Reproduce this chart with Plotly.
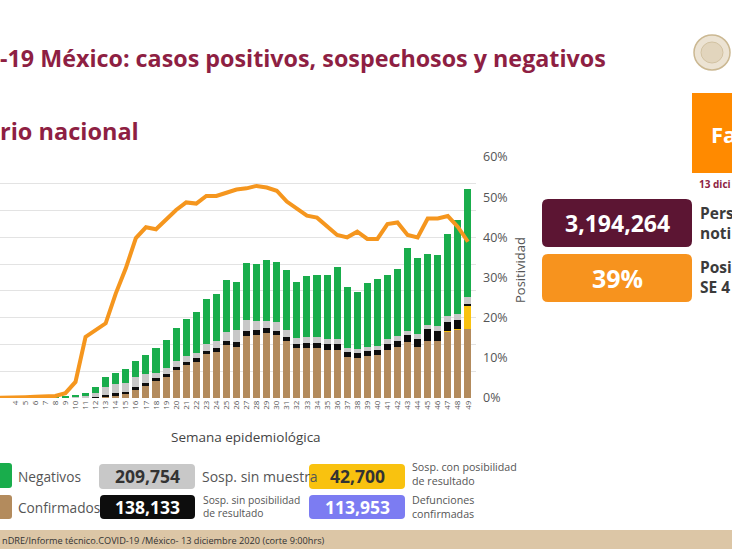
import plotly.graph_objects as go

W, H = 732, 549

weeks = list(range(1, 50))
week_labels = [str(w) for w in weeks]

confirmados = [0, 0, 0, 0, 0, 0, 0, 0, 0, 200, 400, 400, 1000, 2200, 3500, 6700, 9200, 12700, 15900, 20900,
               24600, 27100, 32800, 34600, 39300, 38300, 46300, 47000, 48300, 47000, 42300, 37100, 37500, 37500,
               35800, 35800, 30400, 29600, 31300, 32100, 35800, 38300, 41600, 37800, 42500, 42500, 50000, 51300, 51500]
sosp_con_posibilidad = [0] * 46 + [200, 400, 17900]
sosp_sin_posibilidad = [0, 0, 0, 0, 0, 0, 0, 0, 0, 100, 200, 600, 1300, 1300, 1200, 1300, 1800, 2000, 2000, 2000,
                        2500, 2500, 2500, 2500, 3000, 3500, 4000, 3700, 3700, 3200, 3400, 3200, 3300, 3700,
                        4300, 4300, 4000, 3700, 3700, 3700, 4500, 4300, 5400, 6000, 8700, 7500, 6900, 6900, 700]
sosp_sin_muestra = [0, 0, 0, 0, 0, 0, 0, 0, 200, 600, 900, 2500, 5700, 6900, 6700, 7500, 6900, 4200, 4300, 4900,
                    4500, 4200, 5000, 5700, 7200, 9000, 8000, 6700, 5700, 6300, 5000, 4300, 4500, 4000,
                    3700, 4000, 2800, 3000, 3200, 3000, 3500, 3700, 3200, 4000, 3200, 3700, 4300, 4500, 5000]
negativos = [750, 750, 900, 900, 750, 750, 750, 750, 600, 1300, 2500, 4900, 7900, 8400, 10000, 12200, 14200,
             18400, 21100, 24600, 27400, 30200, 33400, 34900, 38400, 36000, 42800, 42500, 45300, 44800, 44800,
             42200, 45700, 46700, 48200, 53500, 46000, 43000, 47800, 49800, 48000, 49800, 61900, 56900, 52800,
             52800, 61000, 70200, 81300]
positividad = [0.0, 0.0, 0.2, 0.2, 0.2, 0.3, 0.3, 0.5, 1.2, 4.0, 15.2, 16.8, 18.6, 26.0, 32.3, 39.8, 42.5, 42.0,
               44.3, 46.8, 48.7, 48.4, 50.3, 50.3, 51.1, 51.9, 52.2, 52.8, 52.4, 51.6, 48.9, 47.0, 45.4, 44.9,
               42.6, 40.6, 40.0, 41.4, 39.6, 39.6, 43.3, 43.7, 40.6, 40.0, 44.7, 44.7, 45.3, 42.6, 38.9]

total_notificados = "3,194,264"
positividad_se = "39%"
legend_values = {"sin_muestra": "209,754", "sin_posibilidad": "138,133",
                 "con_posibilidad": "42,700", "defunciones": "113,953"}

C_GREEN = "#19ad4c"
C_BROWN = "#b38b5d"
C_GRAY = "#c8c8c8"
C_BLACK = "#0d0d0d"
C_YELLOW = "#f9c20f"
C_ORANGE = "#f5961e"
C_MAROON = "#8e1f43"
C_DARKMAROON = "#5c1533"
C_PURPLE = "#7c7cf2"
FONT = "Open Sans"


def px(x):
    return x / W


def py(y):
    return 1 - y / H


fig = go.Figure()
series = [
    ("Confirmados", confirmados, C_BROWN),
    ("Sosp. con posibilidad de resultado", sosp_con_posibilidad, C_YELLOW),
    ("Sosp. sin posibilidad de resultado", sosp_sin_posibilidad, C_BLACK),
    ("Sosp. sin muestra", sosp_sin_muestra, C_GRAY),
    ("Negativos", negativos, C_GREEN),
]
for name, vals, col in series:
    fig.add_trace(go.Bar(x=weeks, y=vals, name=name, marker=dict(color=col, line=dict(width=0)),
                         showlegend=False))

fig.add_trace(go.Scatter(x=weeks, y=[v / 100 for v in positividad], yaxis="y2", mode="lines",
                         line=dict(color=C_ORANGE, width=4), showlegend=False))

shapes = []
annotations = []


def rrect(x0, y0, x1, y1, r, color):
    X0, X1 = px(x0), px(x1)
    Y0, Y1 = py(y0), py(y1)
    rx, ry = r / W, r / H
    path = (f"M {X0+rx},{Y0} L {X1-rx},{Y0} Q {X1},{Y0} {X1},{Y0-ry} "
            f"L {X1},{Y1+ry} Q {X1},{Y1} {X1-rx},{Y1} L {X0+rx},{Y1} "
            f"Q {X0},{Y1} {X0},{Y1+ry} L {X0},{Y0-ry} Q {X0},{Y0} {X0+rx},{Y0} Z")
    shapes.append(dict(type="path", path=path, xref="paper", yref="paper",
                       fillcolor=color, line=dict(width=0), layer="above"))


def text(x, y, s, size, color, bold=False, xanchor="left", yanchor="middle", angle=0, align="left"):
    annotations.append(dict(x=px(x), y=py(y), xref="paper", yref="paper", text=(f"<b>{s}</b>" if bold else s),
                            showarrow=False, xanchor=xanchor, yanchor=yanchor, textangle=angle, align=align,
                            font=dict(family=FONT, size=size, color=color)))


# Titles
text(-2, 58, "-19 México: casos positivos, sospechosos y negativos", 23.3, C_MAROON, bold=True)
text(-2, 131, "rio nacional", 23.5, C_MAROON, bold=True)

# Logo (seal)
shapes.append(dict(type="circle", xref="paper", yref="paper", x0=px(694), x1=px(730), y0=py(70), y1=py(35),
                   fillcolor="#ece3d3", line=dict(color="#cbb892", width=1.5)))
shapes.append(dict(type="circle", xref="paper", yref="paper", x0=px(701), x1=px(723), y0=py(63), y1=py(42),
                   fillcolor="#e2d5bd", line=dict(color="#d2c2a2", width=1)))

# Right panel
shapes.append(dict(type="rect", xref="paper", yref="paper", x0=px(692), x1=px(733), y0=py(173), y1=py(93),
                   fillcolor="#ff8a00", line=dict(width=0)))
text(709, 134, "Fa", 22, "white", bold=True)
text(697, 184, "13 dici", 10, C_MAROON, bold=True)
rrect(542, 199, 692, 247, 6, C_DARKMAROON)
text(617, 223, total_notificados, 23, "white", bold=True, xanchor="center")
text(698, 223, "<b>Pers</b><br><b>noti</b>", 15.5, "#3b3b3b")
rrect(542, 254, 692, 302, 6, "#f7931e")
text(617, 278, positividad_se, 25, "white", bold=True, xanchor="center")
text(698, 277, "<b>Posi</b><br><b>SE 4</b>", 15.5, "#3b3b3b")

# Axis texts
text(520, 270, "Positividad", 13, "#555555", xanchor="center", angle=-90)
text(246, 437, "Semana epidemiológica", 13.5, "#444444", xanchor="center")

# Legend
rrect(-6, 463, 12, 488, 3, C_GREEN)
text(16, 476, "Negativos", 13.7, "#555555")
rrect(-6, 495, 12, 519, 3, C_BROWN)
text(16, 507, "Confirmados", 13.7, "#555555")
rrect(99, 464, 195, 489, 4, C_GRAY)
text(147, 476, legend_values["sin_muestra"], 17.5, "#333333", bold=True, xanchor="center")
rrect(100, 495, 195, 519, 4, C_BLACK)
text(147, 507, legend_values["sin_posibilidad"], 17.5, "white", bold=True, xanchor="center")
text(200, 476, "Sosp. sin muestra", 14, "#555555")
text(201, 506, "Sosp. sin posibilidad<br>de resultado", 10.3, "#555555")
rrect(309, 464, 405, 489, 4, C_YELLOW)
text(357, 476, legend_values["con_posibilidad"], 17.5, "#333333", bold=True, xanchor="center")
rrect(309, 495, 405, 519, 4, C_PURPLE)
text(357, 507, legend_values["defunciones"], 17.5, "white", bold=True, xanchor="center")
text(410, 474, "Sosp. con posibilidad<br>de resultado", 10.7, "#555555")
text(410, 507, "Defunciones<br>confirmadas", 10.7, "#555555")

# Footer
shapes.append(dict(type="rect", xref="paper", yref="paper", x0=0, x1=1, y0=0, y1=py(530),
                   fillcolor="#dcc6a6", line=dict(width=0), layer="below"))
text(0, 540, "nDRE/Informe técnico.COVID-19 /México- 13 diciembre 2020 (corte 9:00hrs)", 9.2, "#333333")

fig.update_layout(
    width=W, height=H,
    margin=dict(l=0, r=0, t=0, b=0, autoexpand=False),
    paper_bgcolor="white", plot_bgcolor="rgba(0,0,0,0)",
    barmode="stack", bargap=0.3,
    font=dict(family=FONT),
    xaxis=dict(domain=[0, px(476)], range=[2.5, 49.8], tickmode="array", tickvals=weeks,
               ticktext=week_labels, tickangle=-90, tickfont=dict(size=8, color="#555555"),
               showgrid=False, zeroline=False, showline=False, ticks="", automargin=False),
    yaxis=dict(domain=[py(398), py(157)], range=[0, 180000], dtick=20000, showticklabels=False,
               showgrid=True, gridcolor="#e3e3e3", gridwidth=1, zeroline=False, automargin=False),
    yaxis2=dict(overlaying="y", side="right", anchor="x", range=[0, 0.6], dtick=0.1, tickformat=".0%",
                showgrid=False, zeroline=False, tickfont=dict(size=12.5, color="#555555"), ticks="",
                ticklabelstandoff=6, automargin=False),
    shapes=shapes, annotations=annotations,
)

post = ("document.documentElement.style.margin='0';document.documentElement.style.padding='0';"
        "document.documentElement.style.overflow='hidden';"
        "document.body.style.margin='0';document.body.style.padding='0';document.body.style.overflow='hidden';")
fig.write_html("out.html", post_script=post, config={"displayModeBar": False})
